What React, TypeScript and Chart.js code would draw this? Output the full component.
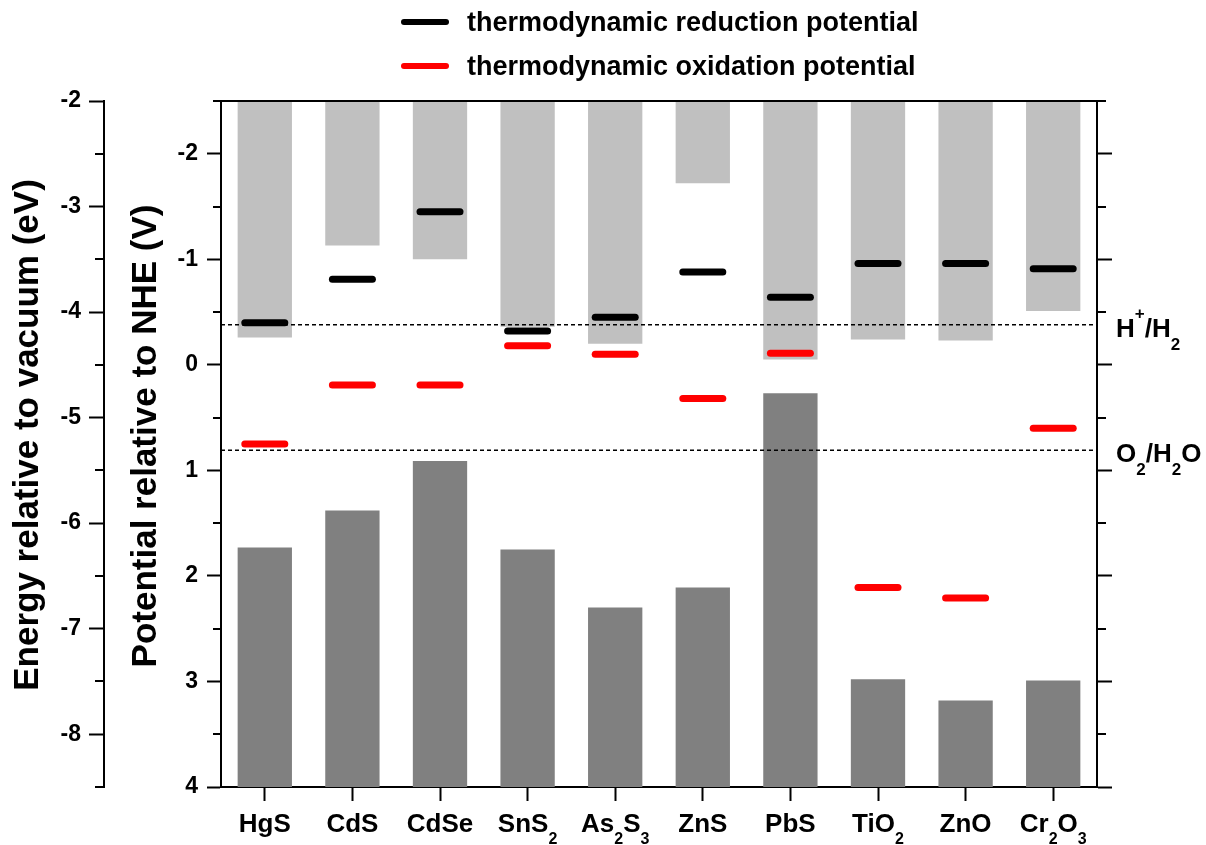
import React, { useEffect, useRef } from 'react';
import { Chart, registerables } from 'chart.js';

Chart.register(...registerables);

// ---- data (potentials in V vs NHE) ----
const categories = ['HgS', 'CdS', 'CdSe', 'SnS_2', 'As_2S_3', 'ZnS', 'PbS', 'TiO_2', 'ZnO', 'Cr_2O_3'];
const conductionBand = [-0.26, -1.13, -1.0, -0.36, -0.2, -1.72, -0.05, -0.24, -0.23, -0.51];
const valenceBand = [1.73, 1.38, 0.91, 1.75, 2.3, 2.11, 0.27, 2.98, 3.18, 2.99];
const reductionPotential = [-0.4, -0.81, -1.45, -0.32, -0.45, -0.88, -0.64, -0.96, -0.96, -0.91];
const oxidationPotential = [0.75, 0.19, 0.19, -0.18, -0.1, 0.32, -0.11, 2.11, 2.21, 0.6];
const referenceLevels = [-0.38, 0.81];
const referenceLabels = ['H^+/H_2', 'O_2/H_2O'];
const legendLabels = ['thermodynamic reduction potential', 'thermodynamic oxidation potential'];
const legendColors = ['#000000', '#ff0000'];
const potentialMin = -2.5;
const potentialMax = 4;
const vacuumOffset = -4.5; // E(vacuum) = -4.5 - V(NHE)
const energyTitle = 'Energy relative to vacuum (eV)';
const potentialTitle = 'Potential relative to NHE (V)';

const FONT = '"Liberation Sans", Arial, Helvetica, sans-serif';

type Part = { t: string; k: 'n' | 'sub' | 'sup' };
function parseRich(s: string): Part[] {
  const parts: Part[] = [];
  for (let i = 0; i < s.length; i++) {
    const c = s[i];
    if ((c === '_' || c === '^') && i + 1 < s.length) {
      parts.push({ t: s[i + 1], k: c === '_' ? 'sub' : 'sup' });
      i++;
    } else {
      const last = parts[parts.length - 1];
      if (last && last.k === 'n') last.t += c;
      else parts.push({ t: c, k: 'n' });
    }
  }
  return parts;
}

function drawRich(
  ctx: CanvasRenderingContext2D,
  s: string,
  x: number,
  y: number,
  align: 'left' | 'center',
  size: number,
  subSize: number,
  subDy: number,
  supDy: number
) {
  const parts = parseRich(s);
  const fontFor = (k: string) => `bold ${k === 'n' ? size : subSize}px ${FONT}`;
  let w = 0;
  for (const p of parts) {
    ctx.font = fontFor(p.k);
    w += ctx.measureText(p.t).width;
  }
  let cx = align === 'center' ? x - w / 2 : x;
  ctx.textAlign = 'left';
  ctx.textBaseline = 'alphabetic';
  ctx.fillStyle = '#000';
  for (const p of parts) {
    ctx.font = fontFor(p.k);
    const dy = p.k === 'sub' ? subDy : p.k === 'sup' ? supDy : 0;
    ctx.fillText(p.t, cx, y + dy);
    cx += ctx.measureText(p.t).width;
  }
}

const decorPlugin = {
  id: 'decor',
  beforeDatasetDraw(chart: any, args: any) {
    const ctx: CanvasRenderingContext2D = chart.ctx;
    if (args.index === 2) {
      // reference (dashed) levels, drawn above the bars
      const ys = chart.scales.y;
      const area = chart.chartArea;
      ctx.save();
      ctx.strokeStyle = '#000';
      ctx.lineWidth = 1.5;
      ctx.setLineDash([4, 3]);
      for (const lv of referenceLevels) {
        const py = ys.getPixelForValue(lv);
        ctx.beginPath();
        ctx.moveTo(area.left, py);
        ctx.lineTo(area.right, py);
        ctx.stroke();
      }
      ctx.restore();
    }
    if (args.index === 2 || args.index === 3) ctx.lineCap = 'round';
  },
  afterDatasetDraw(chart: any, args: any) {
    if (args.index === 2 || args.index === 3) chart.ctx.lineCap = 'butt';
  },
  afterDraw(chart: any) {
    const ctx: CanvasRenderingContext2D = chart.ctx;
    const area = chart.chartArea;
    const ys = chart.scales.y;
    const yE = chart.scales.yE;
    const yR = chart.scales.yR;
    const xs = chart.scales.x;
    ctx.save();
    // top frame line
    ctx.strokeStyle = '#000';
    ctx.lineWidth = 2;
    ctx.beginPath();
    ctx.moveTo(area.left - 1, area.top);
    ctx.lineTo(area.right + 1, area.top);
    ctx.stroke();

    // minor ticks
    const minor = (scale: any, x0: number, dir: number, len: number) => {
      const lo = Math.min(scale.min, scale.max);
      const hi = Math.max(scale.min, scale.max);
      ctx.beginPath();
      for (let v = Math.ceil(lo * 2) / 2; v <= hi + 1e-9; v += 0.5) {
        if (Math.abs(v - Math.round(v)) < 1e-6) continue;
        const py = Math.round(scale.getPixelForValue(v));
        ctx.moveTo(x0, py);
        ctx.lineTo(x0 + dir * len, py);
      }
      ctx.stroke();
    };
    minor(yE, yE.right, -1, 9);
    minor(ys, ys.right, -1, 8);
    minor(yR, yR.left, 1, 9);

    // category labels
    categories.forEach((c, i) => {
      const px = xs.getPixelForValue(i);
      drawRich(ctx, c, px, area.bottom + 45, 'center', 26, 16, 12, -18);
    });

    // reference labels
    referenceLevels.forEach((lv, i) => {
      const py = ys.getPixelForValue(lv);
      drawRich(ctx, referenceLabels[i], area.right + 19, py + 12, 'left', 26, 17, 13, -18);
    });

    // axis titles
    ctx.fillStyle = '#000';
    ctx.font = `bold 35px ${FONT}`;
    ctx.textAlign = 'center';
    ctx.textBaseline = 'alphabetic';
    const mid = (area.top + area.bottom) / 2;
    ctx.save();
    ctx.translate(yE.left + 38, mid - 9);
    ctx.rotate(-Math.PI / 2);
    ctx.fillText(energyTitle, 0, 0);
    ctx.restore();
    ctx.save();
    ctx.translate(ys.left + 52, mid - 8);
    ctx.rotate(-Math.PI / 2);
    ctx.fillText(potentialTitle, 0, 0);
    ctx.restore();

    // legend
    legendLabels.forEach((lab, i) => {
      const ly = 22 + i * 44;
      ctx.strokeStyle = legendColors[i];
      ctx.lineWidth = 6;
      ctx.lineCap = 'round';
      ctx.beginPath();
      ctx.moveTo(404, ly);
      ctx.lineTo(446, ly);
      ctx.stroke();
      ctx.fillStyle = '#000';
      ctx.font = `bold 27px ${FONT}`;
      ctx.textAlign = 'left';
      ctx.textBaseline = 'alphabetic';
      ctx.fillText(lab, 467, ly + 9);
    });
    ctx.restore();
  },
};

export default function App() {
  const canvasRef = useRef<HTMLCanvasElement | null>(null);

  useEffect(() => {
    if (!canvasRef.current) return;
    Chart.defaults.font.family = FONT;
    const tickFont = { family: FONT, size: 23, weight: 'bold' as const };
    const majorTickColor = (c: any) =>
      c.tick && Number.isInteger(Math.round(c.tick.value * 1000) / 1000) ? '#000' : 'rgba(0,0,0,0)';
    const intLabel = (v: any) => (Number.isInteger(Math.round(Number(v) * 1000) / 1000) ? String(v) : '');

    const chart = new Chart(canvasRef.current, {
      type: 'bar',
      data: {
        labels: categories,
        datasets: [
          {
            type: 'bar',
            label: 'conduction band',
            data: conductionBand.map((v) => [potentialMin, v]),
            backgroundColor: '#c0c0c0',
            borderWidth: 0,
            grouped: false,
            barPercentage: 0.62,
            categoryPercentage: 1,
            order: 4,
            yAxisID: 'y',
          } as any,
          {
            type: 'bar',
            label: 'valence band',
            data: valenceBand.map((v) => [v, potentialMax]),
            backgroundColor: '#808080',
            borderWidth: 0,
            grouped: false,
            barPercentage: 0.62,
            categoryPercentage: 1,
            order: 3,
            yAxisID: 'y',
          } as any,
          {
            type: 'line',
            label: legendLabels[1],
            data: oxidationPotential,
            showLine: false,
            pointStyle: 'line',
            pointRadius: 20,
            pointHoverRadius: 20,
            pointBorderWidth: 7,
            pointBorderColor: legendColors[1],
            pointBackgroundColor: legendColors[1],
            order: 2,
            yAxisID: 'y',
          } as any,
          {
            type: 'line',
            label: legendLabels[0],
            data: reductionPotential,
            showLine: false,
            pointStyle: 'line',
            pointRadius: 20,
            pointHoverRadius: 20,
            pointBorderWidth: 7,
            pointBorderColor: legendColors[0],
            pointBackgroundColor: legendColors[0],
            order: 1,
            yAxisID: 'y',
          } as any,
        ],
      },
      options: {
        responsive: false,
        animation: false,
        layout: { padding: { top: 101, left: 0, right: 0, bottom: 0 } },
        plugins: { legend: { display: false }, tooltip: { enabled: false }, title: { display: false } },
        scales: {
          x: {
            type: 'category',
            offset: true,
            position: 'bottom',
            grid: { display: true, offset: false, drawOnChartArea: false, drawTicks: true, tickLength: 14, tickWidth: 2, tickColor: '#000' },
            border: { display: true, width: 2, color: '#000' },
            ticks: { display: false },
            afterFit: (s: any) => {
              s.height = 58;
            },
          },
          yE: {
            type: 'linear',
            position: 'left',
            weight: 1,
            min: vacuumOffset - potentialMax,
            max: vacuumOffset - potentialMin,
            grid: { display: true, drawOnChartArea: false, tickLength: 15, tickWidth: 2, tickColor: majorTickColor },
            border: { display: true, width: 2, color: '#000' },
            ticks: { stepSize: 1, autoSkip: false, padding: 8, color: '#000', font: tickFont, callback: intLabel },
            afterFit: (s: any) => {
              s.width = 104;
            },
          },
          y: {
            type: 'linear',
            position: 'left',
            weight: 0,
            reverse: true,
            min: potentialMin,
            max: potentialMax,
            grid: { display: true, drawOnChartArea: false, tickLength: 14, tickWidth: 2, tickColor: majorTickColor },
            border: { display: true, width: 2, color: '#000' },
            ticks: { stepSize: 1, autoSkip: false, padding: 9, color: '#000', font: tickFont, callback: intLabel },
            afterFit: (s: any) => {
              s.width = 117;
            },
          },
          yR: {
            type: 'linear',
            position: 'right',
            reverse: true,
            min: potentialMin,
            max: potentialMax,
            grid: { display: true, drawOnChartArea: false, tickLength: 15, tickWidth: 2, tickColor: majorTickColor },
            border: { display: true, width: 2, color: '#000' },
            ticks: { stepSize: 1, display: false },
            afterFit: (s: any) => {
              s.width = 109;
            },
          },
        },
      } as any,
      plugins: [decorPlugin],
    });
    return () => chart.destroy();
  }, []);

  return (
    <div style={{ position: 'absolute', left: 0, top: 0, width: 1206, height: 845, background: '#fff' }}>
      <canvas ref={canvasRef} width={1206} height={845} style={{ display: 'block' }} />
    </div>
  );
}
